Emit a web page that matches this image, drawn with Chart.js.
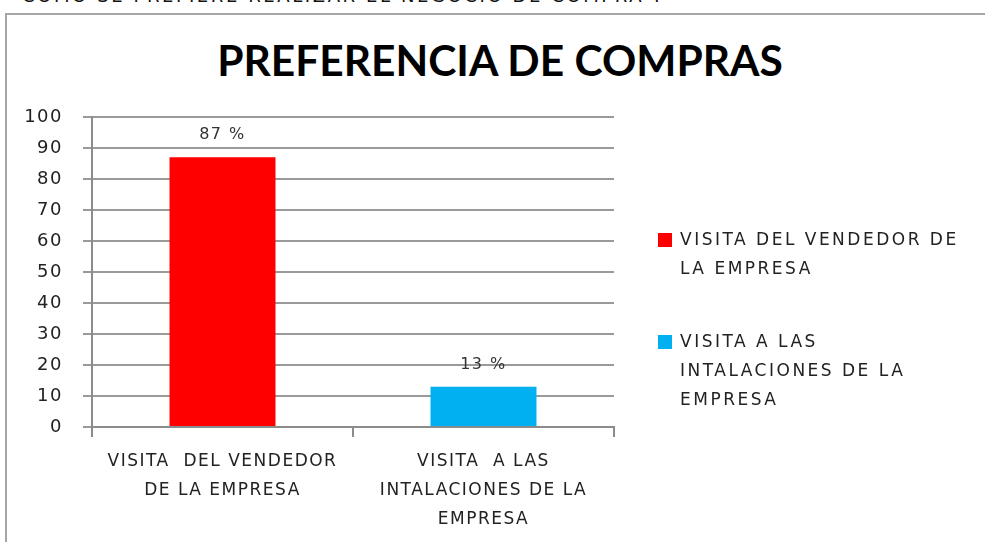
<!DOCTYPE html>
<html>
<head>
<meta charset="utf-8">
<script src="https://cdn.jsdelivr.net/npm/chart.js@4"></script>
<style>
    body { margin: 0; background: #fff; overflow: hidden; }
    #wrap { position: relative; width: 985px; height: 542px; overflow: hidden; }
    #caption {
        position: absolute; left: 22px; top: -15px;
        font: 18px "DejaVu Sans"; color: #111; letter-spacing: 2.6px; white-space: nowrap;
    }
    #frame {
        position: absolute; left: 5px; top: 13px; width: 1100px; height: 700px;
        border: 2px solid #a6a6a6; box-sizing: border-box;
    }
    #titulo {
        position: absolute; left: 0; width: 1000px; top: 34px; text-align: center;
        font: bold 42.5px Lato; color: #000;
    }
    #grafico { position: absolute; left: 0; top: 0; width: 985px; height: 542px; }
    #leyenda {
        position: absolute; left: 658px; top: 225px;
        font: 17px "DejaVu Sans"; color: #222; line-height: 29px; letter-spacing: 2.5px;
    }
    .item { position: relative; padding-left: 22px; margin-bottom: 44px; }
    .cuadro { position: absolute; left: 0; top: 8px; width: 14px; height: 14px; }
</style>
</head>
<body>
<div id="wrap">
    <div id="caption">COMO SE PREFIERE REALIZAR EL NEGOCIO DE COMPRA ?</div>
    <div id="frame"></div>
    <div id="titulo">PREFERENCIA DE COMPRAS</div>
    <div id="grafico"><canvas id="chart"></canvas></div>
    <div id="leyenda"></div>
</div>
<script>
// datos
const categorias = [
    ["VISITA  DEL VENDEDOR", "DE LA EMPRESA"],
    ["VISITA  A LAS", "INTALACIONES DE LA", "EMPRESA"]
];
const valores = [87, 13];
const colores = ["#FF0000", "#00B0F0"];
const leyendaTextos = [
    ["VISITA  DEL VENDEDOR  DE", "LA EMPRESA"],
    ["VISITA  A LAS", "INTALACIONES DE LA", "EMPRESA"]
];
const ticksY = [0, 10, 20, 30, 40, 50, 60, 70, 80, 90, 100];

// leyenda html
const leyenda = document.getElementById("leyenda");
leyendaTextos.forEach((lineas, i) => {
    leyenda.innerHTML += `
        <div class="item">
            <span class="cuadro" style="background:${colores[i]}"></span>
            ${lineas.join("<br>")}
        </div>`;
});

// espaciado de letras para todo el texto del canvas
const espaciado = {
    id: "espaciado",
    beforeDraw(chart) { chart.ctx.letterSpacing = "1.5px"; }
};

// etiquetas de porcentaje encima de las barras
const etiquetas = {
    id: "etiquetas",
    afterDatasetsDraw(chart) {
        const c = chart.ctx;
        const meta = chart.getDatasetMeta(0);
        c.save();
        c.font = "16px 'DejaVu Sans'";
        c.fillStyle = "#333";
        c.textAlign = "center";
        c.textBaseline = "middle";
        meta.data.forEach((bar, i) => {
            c.fillText(valores[i] + " %", bar.x, bar.y - 22);
        });
        c.restore();
    }
};

const ctx = document.getElementById("chart").getContext("2d");

new Chart(ctx, {
    type: "bar",
    data: {
        labels: categorias,
        datasets: [{
            data: valores,
            backgroundColor: colores,
            categoryPercentage: 1,
            barPercentage: 0.406
        }]
    },
    options: {
        responsive: true,
        maintainAspectRatio: false,
        animation: false,
        layout: { padding: { top: 117, right: 371, left: 0, bottom: 0 } },
        plugins: {
            legend: { display: false },
            tooltip: { enabled: false }
        },
        scales: {
            x: {
                afterFit: s => { s.height = 115; },
                border: { color: "#8c8c8c", width: 2 },
                grid: { drawOnChartArea: false, tickLength: 10, color: "#8c8c8c", lineWidth: 2 },
                ticks: {
                    color: "#222",
                    font: { family: "DejaVu Sans", size: 17, lineHeight: 1.7 },
                    padding: 10,
                    maxRotation: 0
                }
            },
            y: {
                min: 0,
                max: 100,
                afterFit: s => { s.width = 92; },
                afterBuildTicks: s => { s.ticks = ticksY.map(v => ({ value: v })); },
                border: { color: "#8c8c8c", width: 2 },
                grid: { tickLength: 9, color: "#9a9a9a", lineWidth: 2 },
                ticks: {
                    color: "#222",
                    font: { family: "DejaVu Sans", size: 18 },
                    padding: 20
                }
            }
        }
    },
    plugins: [espaciado, etiquetas]
});
</script>
</body>
</html>
